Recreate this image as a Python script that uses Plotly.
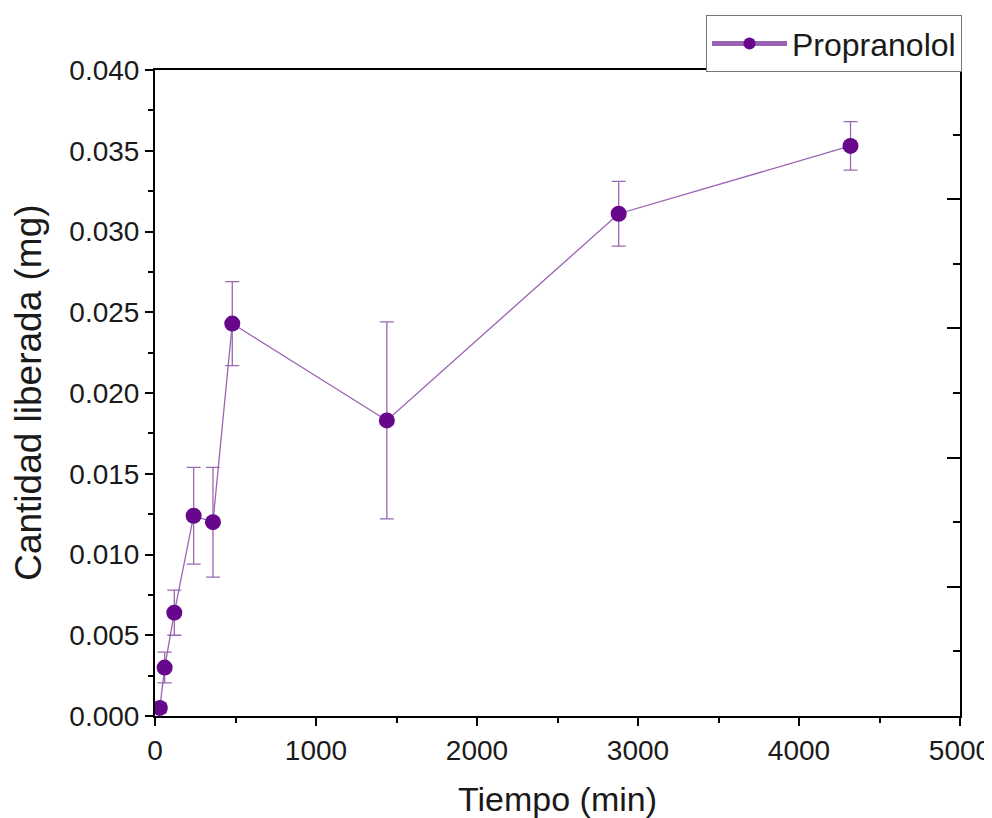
import plotly.graph_objects as go

# Data
tiempo_min = [30, 60, 120, 240, 360, 480, 1440, 2880, 4320]
cantidad_mg = [0.0005, 0.0030, 0.0064, 0.0124, 0.0120, 0.0243, 0.0183, 0.0311, 0.0353]
error_mg = [0.0003, 0.00095, 0.0014, 0.0030, 0.0034, 0.0026, 0.0061, 0.0020, 0.0015]

x_ticks = [0, 1000, 2000, 3000, 4000, 5000]
y_ticks = [0.000, 0.005, 0.010, 0.015, 0.020, 0.025, 0.030, 0.035, 0.040]
y_tick_labels = ["0.000", "0.005", "0.010", "0.015", "0.020", "0.025", "0.030", "0.035", "0.040"]
right_ticks = [0.008, 0.016, 0.024, 0.032]

FONT = "Arial, Liberation Sans, sans-serif"
MARKER = "#66078c"
LINE = "#9a62b4"

fig = go.Figure()
fig.add_trace(go.Scatter(
    x=tiempo_min, y=cantidad_mg, name="Propranolol",
    mode="lines+markers",
    line=dict(color=LINE, width=1.3),
    marker=dict(color=MARKER, size=16),
    error_y=dict(type="data", array=error_mg, visible=True,
                 color="#9a6aae", thickness=1.3, width=7),
))
fig.add_trace(go.Scatter(x=[], y=[], yaxis="y2", showlegend=False, hoverinfo="skip"))

# page body has an 8px margin, so the figure is sized/offset to compensate
fig.update_layout(
    width=984, height=810,
    paper_bgcolor="white", plot_bgcolor="white",
    margin=dict(l=147, r=32, t=62, b=102, autoexpand=False),
    font=dict(family=FONT, color="#1a1a1a"),
    showlegend=True,
    legend=dict(x=1.0025, xanchor="right", y=1.085, yanchor="top",
                bgcolor="white", bordercolor="#777777", borderwidth=1,
                font=dict(size=32, family=FONT, color="#1a1a1a"),
                itemwidth=75, itemsizing="constant"),
    xaxis=dict(
        range=[0, 5000], tickvals=x_ticks,
        ticks="outside", ticklen=8, tickwidth=1.5, tickcolor="black",
        minor=dict(dtick=500, ticks="outside", ticklen=5, tickwidth=1.5, tickcolor="black", tick0=0),
        showline=True, linecolor="black", linewidth=2, mirror=True,
        showgrid=False, zeroline=False,
        tickfont=dict(size=28, family=FONT),
        title=dict(text="Tiempo (min)", font=dict(size=34, family=FONT), standoff=23),
    ),
    yaxis=dict(
        range=[0, 0.040], tickvals=y_ticks, ticktext=y_tick_labels,
        ticks="outside", ticklen=8, tickwidth=1.5, tickcolor="black",
        minor=dict(dtick=0.0025, ticks="outside", ticklen=5, tickwidth=1.5, tickcolor="black", tick0=0),
        showline=True, linecolor="black", linewidth=2, mirror=True,
        showgrid=False, zeroline=False,
        tickfont=dict(size=28, family=FONT),
    ),
    yaxis2=dict(
        overlaying="y", side="right", range=[0, 0.040],
        tickvals=right_ticks, showticklabels=False,
        ticks="inside", ticklen=13, tickwidth=1.5, tickcolor="black",
        minor=dict(dtick=0.004, tick0=0.004, ticks="inside", ticklen=7, tickwidth=1.5, tickcolor="black"),
        showline=False, showgrid=False, zeroline=False,
    ),
    annotations=[dict(
        text="Cantidad liberada (mg)", textangle=-90,
        xref="paper", yref="paper", x=-0.158, y=0.5,
        xanchor="center", yanchor="middle", showarrow=False,
        font=dict(size=37, family=FONT, color="#1a1a1a"),
    )],
)

fig.write_html("out.html")
